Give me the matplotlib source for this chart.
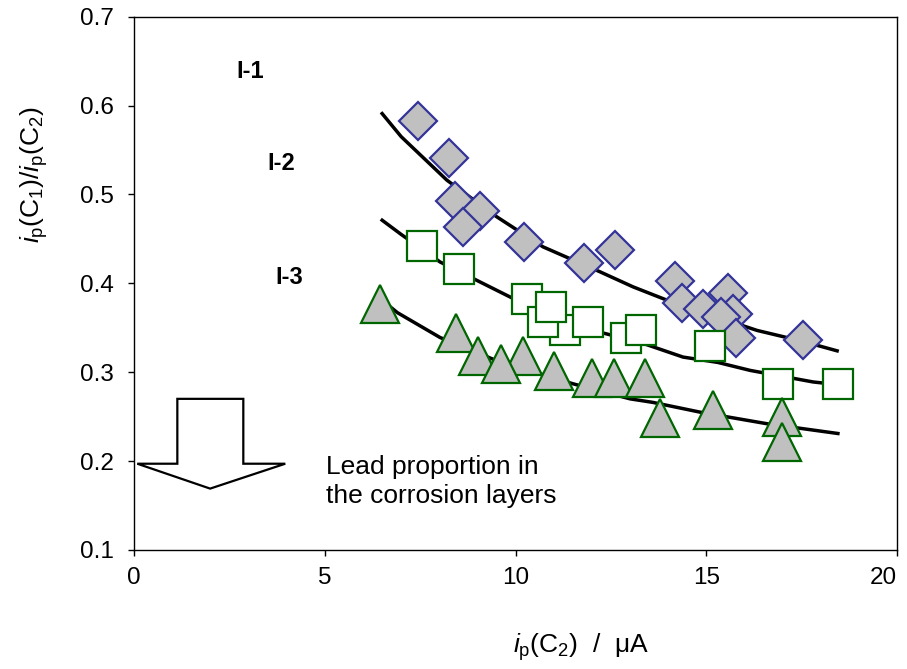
import matplotlib.pyplot as plt
from matplotlib.patches import Polygon

plt.rcParams['font.family'] = ['Liberation Sans', 'DejaVu Sans']
plt.rcParams['mathtext.fontset'] = 'custom'
plt.rcParams['mathtext.rm'] = 'Liberation Sans'
plt.rcParams['mathtext.it'] = 'Liberation Sans:italic'

# I-1 (diamonds)
x_i1 = [7.44, 8.26, 8.41, 9.07, 8.62, 10.22, 11.80, 12.61, 14.18, 14.36, 14.91, 15.57, 15.70, 15.39, 15.78, 17.54]
y_i1 = [0.583, 0.541, 0.493, 0.481, 0.463, 0.447, 0.423, 0.438, 0.403, 0.378, 0.371, 0.389, 0.366, 0.362, 0.339, 0.336]

# I-2 (open squares)
x_i2 = [7.55, 8.52, 11.30, 10.30, 10.72, 10.93, 11.90, 12.90, 13.29, 15.10, 16.88, 18.45]
y_i2 = [0.442, 0.416, 0.347, 0.382, 0.356, 0.373, 0.356, 0.339, 0.348, 0.330, 0.287, 0.287]

# I-3 (triangles)
x_i3 = [6.45, 8.44, 10.20, 9.02, 9.62, 11.01, 12.00, 12.58, 13.39, 13.79, 15.18, 16.99, 16.99]
y_i3 = [0.377, 0.344, 0.318, 0.318, 0.309, 0.301, 0.293, 0.293, 0.293, 0.248, 0.258, 0.250, 0.222]

# fitted curves
fit1_x = [6.5, 7.0, 8.2, 9.5, 10.72, 12.21, 13.08, 13.97, 15.0, 16.33, 17.5, 18.43]
fit1_y = [0.591, 0.565, 0.516, 0.475, 0.441, 0.413, 0.396, 0.381, 0.366, 0.347, 0.335, 0.324]
fit2_x = [6.5, 7.0, 8.02, 9.93, 11.0, 12.21, 13.3, 14.39, 15.3, 16.15, 17.8, 18.45]
fit2_y = [0.471, 0.455, 0.424, 0.383, 0.365, 0.345, 0.333, 0.317, 0.311, 0.302, 0.289, 0.286]
fit3_x = [6.5, 6.9, 8.02, 9.5, 11.5, 13.0, 13.6, 14.84, 16.59, 18.45]
fit3_y = [0.381, 0.367, 0.339, 0.313, 0.287, 0.270, 0.266, 0.255, 0.242, 0.231]

fig = plt.figure(figsize=(9.07, 6.69), dpi=100)
ax = fig.add_axes([0.148, 0.178, 0.841, 0.797])

for fx, fy in [(fit1_x, fit1_y), (fit2_x, fit2_y), (fit3_x, fit3_y)]:
    ax.plot(fx, fy, color='black', lw=2.5, zorder=2)

ax.plot(x_i1, y_i1, 'D', ms=19, mfc='#c0c0c0', mec='#333399', mew=1.6, ls='none', zorder=3)
ax.plot(x_i2, y_i2, 's', ms=21, mfc='white', mec='#006600', mew=1.6, ls='none', zorder=3)
ax.plot(x_i3, y_i3, '^', ms=27, mfc='#c0c0c0', mec='#006600', mew=1.6, ls='none', zorder=3)

ax.text(3.04, 0.638, 'I-1', fontsize=17, fontweight='bold', ha='center', va='center')
ax.text(3.85, 0.535, 'I-2', fontsize=17, fontweight='bold', ha='center', va='center')
ax.text(4.06, 0.406, 'I-3', fontsize=17, fontweight='bold', ha='center', va='center')

# block arrow
arrow = Polygon([(1.13, 0.270), (2.86, 0.270), (2.86, 0.197), (3.96, 0.197),
                 (1.99, 0.169), (0.08, 0.197), (1.13, 0.197)],
                closed=True, fc='white', ec='black', lw=1.6, zorder=4)
ax.add_patch(arrow)
ax.text(5.02, 0.177, 'Lead proportion in\nthe corrosion layers', fontsize=19,
        ha='left', va='center', linespacing=1.25)

ax.set_xlim(0, 20)
ax.set_ylim(0.1, 0.7)
ax.set_xticks([0, 5, 10, 15, 20])
ax.set_yticks([0.1, 0.2, 0.3, 0.4, 0.5, 0.6, 0.7])
ax.set_yticklabels(['0.1', '0.2', '0.3', '0.4', '0.5', '0.6', '0.7'])
ax.tick_params(direction='out', length=4, width=1, labelsize=17.5, pad=8)
ax.tick_params(axis='y', pad=11)
ax.get_xticklabels()[-1].set_ha('right')
for s in ax.spines.values():
    s.set_linewidth(1.0)

ax.set_xlabel(r'$\mathit{i}_\mathrm{p}(\mathrm{C}_2)$  /  μA', fontsize=19)
ax.xaxis.set_label_coords(0.586, -0.152)
ax.set_ylabel(r'$\mathit{i}_\mathrm{p}(\mathrm{C}_1)/\mathit{i}_\mathrm{p}(\mathrm{C}_2)$', fontsize=19)
ax.yaxis.set_label_coords(-0.11, 0.705)

fig.savefig('out.png', dpi=100)
